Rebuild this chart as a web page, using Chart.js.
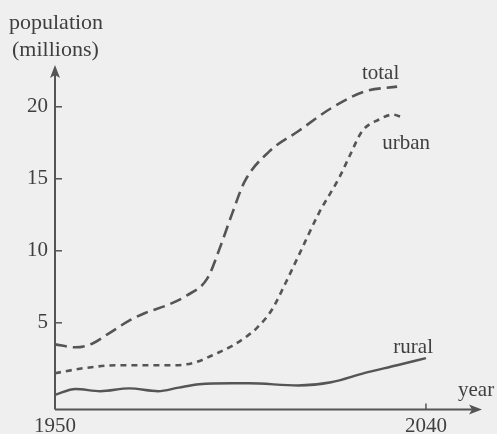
<!DOCTYPE html>
<html>
<head>
<meta charset="utf-8">
<script src="https://cdn.jsdelivr.net/npm/chart.js@4/dist/chart.umd.min.js"></script>
<style>
  html, body { margin: 0; padding: 0; background: #efefef; }
  #wrap { width: 497px; height: 434px; }
</style>
</head>
<body>
<div id="wrap"><canvas id="myChart" width="497" height="434"></canvas></div>
<script>
// years for each curve
const totalYears = [1950, 1955, 1959, 1963, 1968, 1972, 1977, 1982, 1987, 1990, 1993, 1996, 2002, 2009, 2017, 2025, 2033];
const totalValues = [3.5, 3.3, 3.55, 4.25, 5.15, 5.7, 6.2, 6.9, 8.1, 10.2, 12.6, 14.8, 16.9, 18.3, 19.9, 21.05, 21.4];

const urbanYears = [1950, 1957, 1965, 1973, 1979, 1984, 1989, 1993, 1996.5, 1999, 2002.5, 2006, 2009, 2014, 2019, 2021.5, 2024.5, 2028.5, 2032, 2034];
const urbanValues = [1.5, 1.85, 2.05, 2.05, 2.05, 2.25, 2.85, 3.4, 4.05, 4.65, 5.85, 7.8, 9.6, 12.6, 15.1, 16.6, 18.3, 19.1, 19.45, 19.3];

const ruralYears = [1950, 1955, 1961, 1968, 1975, 1980, 1985, 1993, 1997, 2009, 2017, 2025, 2033, 2040];
const ruralValues = [0.0, 0.4, 0.25, 0.45, 0.25, 0.5, 0.73, 0.8, 0.8, 0.65, 0.87, 1.5, 2.05, 2.55];

const yTicks = [5, 10, 15, 20];
const xTicks = [1950, 2040];

const inkColor = "#555555";
const textColor = "#3f3f3f";
const serif = "'Liberation Serif', 'DejaVu Serif', serif";

function toPoints(xs, ys) {
  return xs.map((x, i) => ({ x: x, y: ys[i] }));
}

// axes with arrows, little tick marks and the text labels
const sketchAxes = {
  id: "sketchAxes",
  beforeDraw(chart) {
    const ctx = chart.ctx;
    ctx.save();
    ctx.fillStyle = "#efefef";
    ctx.fillRect(0, 0, chart.width, chart.height);
    ctx.restore();
  },
  afterDatasetsDraw(chart) {
    const ctx = chart.ctx;
    const a = chart.chartArea;
    const xs = chart.scales.x;
    const ys = chart.scales.y;
    ctx.save();
    ctx.strokeStyle = inkColor;
    ctx.fillStyle = inkColor;
    ctx.lineWidth = 2;

    // y axis
    ctx.beginPath();
    ctx.moveTo(a.left, a.bottom);
    ctx.lineTo(a.left, a.top + 8);
    ctx.stroke();
    ctx.beginPath();
    ctx.moveTo(a.left, a.top);
    ctx.lineTo(a.left - 5, a.top + 13);
    ctx.lineTo(a.left, a.top + 10);
    ctx.lineTo(a.left + 5, a.top + 13);
    ctx.closePath();
    ctx.fill();

    // x axis
    ctx.beginPath();
    ctx.moveTo(a.left, a.bottom);
    ctx.lineTo(a.right - 8, a.bottom);
    ctx.stroke();
    ctx.beginPath();
    ctx.moveTo(a.right, a.bottom);
    ctx.lineTo(a.right - 13, a.bottom - 5);
    ctx.lineTo(a.right - 10, a.bottom);
    ctx.lineTo(a.right - 13, a.bottom + 5);
    ctx.closePath();
    ctx.fill();

    // tick marks
    ctx.lineWidth = 1.5;
    yTicks.forEach(v => {
      const py = ys.getPixelForValue(v);
      ctx.beginPath();
      ctx.moveTo(a.left, py);
      ctx.lineTo(a.left + 7, py);
      ctx.stroke();
    });
    const px = xs.getPixelForValue(2040);
    ctx.beginPath();
    ctx.moveTo(px, a.bottom);
    ctx.lineTo(px, a.bottom - 6);
    ctx.stroke();

    // text
    ctx.fillStyle = textColor;
    ctx.font = "21px " + serif;
    ctx.textBaseline = "alphabetic";
    ctx.textAlign = "left";
    ctx.font = "22px " + serif;
    ctx.fillText("population", 9, 29);
    ctx.fillText("(millions)", 12, 56);
    ctx.font = "21px " + serif;
    ctx.fillText("year", a.right - 24, a.bottom - 14);

    ctx.textAlign = "center";
    ctx.fillText("total", xs.getPixelForValue(2029), ys.getPixelForValue(21.9));
    ctx.fillText("urban", xs.getPixelForValue(2035.2), ys.getPixelForValue(17.1));
    ctx.fillText("rural", xs.getPixelForValue(2036.9), ys.getPixelForValue(2.88));
    ctx.restore();
  }
};

const data = {
  datasets: [
    {
      label: "total",
      data: toPoints(totalYears, totalValues),
      borderColor: inkColor,
      borderWidth: 2.6,
      borderDash: [12, 6],
      pointRadius: 0,
      tension: 0.4,
      cubicInterpolationMode: "monotone",
      fill: false
    },
    {
      label: "urban",
      data: toPoints(urbanYears, urbanValues),
      borderColor: inkColor,
      borderWidth: 2.6,
      borderDash: [6, 5],
      pointRadius: 0,
      tension: 0.4,
      cubicInterpolationMode: "monotone",
      fill: false
    },
    {
      label: "rural",
      data: toPoints(ruralYears, ruralValues),
      borderColor: inkColor,
      borderWidth: 2.4,
      pointRadius: 0,
      tension: 0.4,
      cubicInterpolationMode: "monotone",
      fill: false
    }
  ]
};

const config = {
  type: "line",
  data: data,
  options: {
    responsive: false,
    animation: false,
    clip: false,
    layout: { padding: { top: 65, right: 15, left: 0, bottom: 0 } },
    plugins: {
      legend: { display: false },
      tooltip: { enabled: false }
    },
    scales: {
      x: {
        type: "linear",
        min: 1950,
        max: 2053.6,
        afterBuildTicks: scale => { scale.ticks = xTicks.map(v => ({ value: v })); },
        afterFit: scale => { scale.height = 24.5; },
        grid: { display: false, drawTicks: false, tickLength: 0 },
        border: { display: false },
        ticks: {
          color: textColor,
          font: { family: serif, size: 21 },
          padding: 4,
          maxRotation: 0,
          autoSkip: false,
          callback: v => String(v)
        }
      },
      y: {
        min: -1.02,
        max: 22.9,
        afterBuildTicks: scale => { scale.ticks = yTicks.map(v => ({ value: v })); },
        afterFit: scale => { scale.width = 55; },
        grid: { display: false, drawTicks: false, tickLength: 0 },
        border: { display: false },
        ticks: {
          color: textColor,
          font: { family: serif, size: 21 },
          padding: 7,
          autoSkip: false
        }
      }
    }
  },
  plugins: [sketchAxes]
};

new Chart(document.getElementById("myChart"), config);
</script>
</body>
</html>
